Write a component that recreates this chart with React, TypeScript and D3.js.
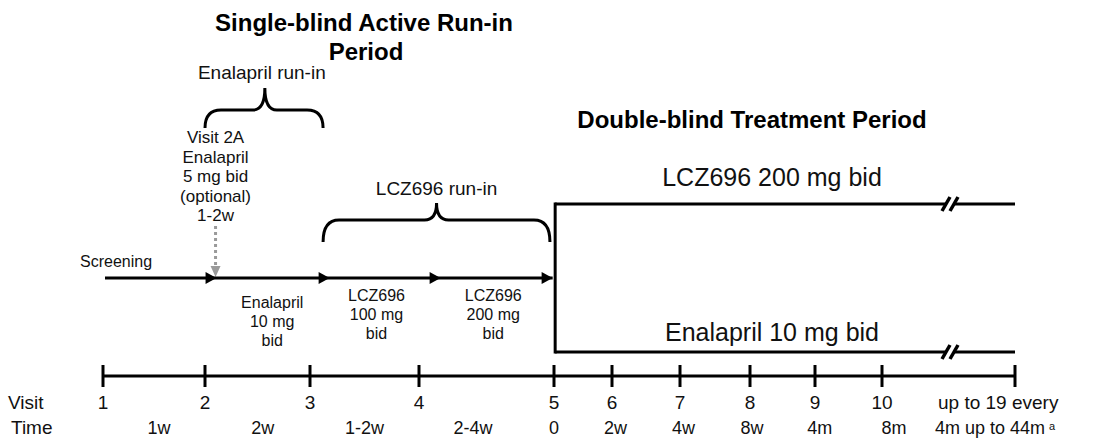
import { useEffect, useRef } from "react";
import * as d3 from "d3";

// visit axis
const visits = ["1", "2", "3", "4", "5", "6", "7", "8", "9", "10"];
const visitEnd = "up to 19 every";
const timeLabels = ["1w", "2w", "1-2w", "2-4w", "0", "2w", "4w", "8w", "4m", "8m"];
const timePos = [0.55, 1.55, 2.5, 3.4, 4, 5.05, 6.05, 7.03, 8.07, 9.09];
const timeEnd = "4m up to 44m";

// run-in phases (position in visit units)
const runInArrows = [1.11, 2.18, 3.16, 3.99];
const runInLabels = [
  { pos: 1.64, lines: ["Enalapril", "10 mg", "bid"], dy: 0 },
  { pos: 2.61, lines: ["LCZ696", "100 mg", "bid"], dy: -7 },
  { pos: 3.55, lines: ["LCZ696", "200 mg", "bid"], dy: -7 },
];
const optionalLines = ["Visit 2A", "Enalapril", "5 mg bid", "(optional)", "1-2w"];

const braces = [
  { from: 1.0, to: 2.12, tip: 1.57, label: "Enalapril run-in", top: 110, tipY: 88, end: 128, labelY: 79 },
  { from: 2.12, to: 3.97, tip: 3.13, label: "LCZ696 run-in", top: 220, tipY: 203, end: 242, labelY: 195 },
];

const arms = ["LCZ696 200 mg bid", "Enalapril 10 mg bid"];

export default function App() {
  const ref = useRef<SVGSVGElement>(null);

  useEffect(() => {
    if (!ref.current) return;
    const svg = d3.select(ref.current);
    svg.selectAll("*").remove();

    const font = "Liberation Sans, Arial, sans-serif";
    const ink = "#111";
    const x = d3.scaleLinear()
      .domain(d3.range(0, 11))
      .range([103, 205, 310, 419, 554, 612, 680, 750, 815, 882, 1015]);

    const axisY = 376;
    const runY = 278;
    const armTop = 204;
    const armBot = 352;

    // Titles
    svg.append("text").attr("x", 364).attr("y", 31)
      .attr("text-anchor", "middle").attr("font-family", font)
      .attr("font-weight", "bold").attr("font-size", 24)
      .text("Single-blind Active Run-in");
    svg.append("text").attr("x", 366).attr("y", 60)
      .attr("text-anchor", "middle").attr("font-family", font)
      .attr("font-weight", "bold").attr("font-size", 24)
      .text("Period");
    svg.append("text").attr("x", 752).attr("y", 128)
      .attr("text-anchor", "middle").attr("font-family", font)
      .attr("font-weight", "bold").attr("font-size", 24)
      .text("Double-blind Treatment Period");

    // Braces
    braces.forEach(b => {
      const x1 = x(b.from), x2 = x(b.to), xm = x(b.tip), r = 12;
      const p = d3.path();
      p.moveTo(x1, b.end);
      p.quadraticCurveTo(x1, b.top, x1 + r + 4, b.top);
      p.lineTo(xm - r, b.top);
      p.quadraticCurveTo(xm, b.top, xm, b.tipY);
      p.quadraticCurveTo(xm, b.top, xm + r, b.top);
      p.lineTo(x2 - r - 4, b.top);
      p.quadraticCurveTo(x2, b.top, x2, b.end);
      svg.append("path").attr("d", p.toString())
        .attr("fill", "none").attr("stroke", "#000").attr("stroke-width", 3);
      svg.append("text").attr("x", xm + (b.label.startsWith("E") ? -3 : 0)).attr("y", b.labelY)
        .attr("text-anchor", "middle").attr("font-family", font).attr("font-size", 19)
        .attr("fill", ink).text(b.label);
    });

    // Optional visit 2A
    const optX = x(1.11) - 1;
    optionalLines.forEach((t, i) => {
      svg.append("text").attr("x", optX).attr("y", 143 + i * 19.5)
        .attr("text-anchor", "middle").attr("font-family", font).attr("font-size", 17)
        .attr("fill", ink).text(t);
    });
    svg.append("line").attr("x1", optX).attr("x2", optX).attr("y1", 226).attr("y2", 266)
      .attr("stroke", "#9a9a9a").attr("stroke-width", 3).attr("stroke-dasharray", "3 3");
    svg.append("path")
      .attr("d", `M${optX - 5},${266}L${optX + 5},${266}L${optX},${277}Z`)
      .attr("fill", "#9a9a9a");

    // Run-in line with arrows
    svg.append("line").attr("x1", 105).attr("x2", x(runInArrows[runInArrows.length - 1]))
      .attr("y1", runY).attr("y2", runY).attr("stroke", "#000").attr("stroke-width", 3);
    svg.selectAll("path.arr").data(runInArrows).join("path").attr("class", "arr")
      .attr("d", d => `M${x(d) - 11},${runY - 6}L${x(d)},${runY}L${x(d) - 11},${runY + 6}Z`)
      .attr("fill", "#000");
    svg.append("text").attr("x", 80).attr("y", 267)
      .attr("font-family", font).attr("font-size", 16).attr("fill", ink).text("Screening");

    runInLabels.forEach(l => {
      l.lines.forEach((t, i) => {
        svg.append("text").attr("x", x(l.pos)).attr("y", 308 + l.dy + i * 19)
          .attr("text-anchor", "middle").attr("font-family", font).attr("font-size", 16)
          .attr("fill", ink).text(t);
      });
    });

    // Treatment arms
    const splitX = x(4.02);
    const endX = x(10);
    const breakX = 950;
    svg.append("line").attr("x1", splitX).attr("x2", splitX).attr("y1", armTop - 1.5).attr("y2", armBot + 1.5)
      .attr("stroke", "#000").attr("stroke-width", 3);
    [armTop, armBot].forEach((yy, i) => {
      svg.append("line").attr("x1", splitX).attr("x2", endX).attr("y1", yy).attr("y2", yy)
        .attr("stroke", "#000").attr("stroke-width", 3);
      svg.append("rect").attr("x", breakX - 4).attr("y", yy - 4).attr("width", 8).attr("height", 8)
        .attr("fill", "#fff");
      [-4, 4].forEach(dx => {
        svg.append("line")
          .attr("x1", breakX + dx - 4).attr("y1", yy + 7)
          .attr("x2", breakX + dx + 4).attr("y2", yy - 7)
          .attr("stroke", "#000").attr("stroke-width", 3.5);
      });
      svg.append("text").attr("x", 772).attr("y", i === 0 ? 186 : 341)
        .attr("text-anchor", "middle").attr("font-family", font).attr("font-size", 25)
        .attr("fill", ink).text(arms[i]);
    });

    // Visit axis
    svg.append("line").attr("x1", x(0)).attr("x2", x(10)).attr("y1", axisY).attr("y2", axisY)
      .attr("stroke", "#000").attr("stroke-width", 3);
    svg.selectAll("line.tick").data(d3.range(0, 11)).join("line").attr("class", "tick")
      .attr("x1", d => x(d)).attr("x2", d => x(d))
      .attr("y1", axisY - 11).attr("y2", axisY + 11)
      .attr("stroke", "#000").attr("stroke-width", 3);

    svg.append("text").attr("x", 8).attr("y", 409).attr("font-family", font).attr("font-size", 19)
      .attr("fill", ink).text("Visit");
    svg.append("text").attr("x", 11).attr("y", 434).attr("font-family", font).attr("font-size", 19)
      .attr("fill", ink).text("Time");

    svg.selectAll("text.visit").data(visits).join("text").attr("class", "visit")
      .attr("x", (_, i) => x(i)).attr("y", 409)
      .attr("text-anchor", "middle").attr("font-family", font).attr("font-size", 19)
      .attr("fill", ink).text(d => d);
    svg.append("text").attr("x", 938).attr("y", 409).attr("font-family", font).attr("font-size", 19)
      .attr("fill", ink).text(visitEnd);

    svg.selectAll("text.time").data(timeLabels).join("text").attr("class", "time")
      .attr("x", (_, i) => x(timePos[i])).attr("y", 434)
      .attr("text-anchor", "middle").attr("font-family", font).attr("font-size", 18)
      .attr("fill", ink).text(d => d);
    const te = svg.append("text").attr("x", 935).attr("y", 434).attr("font-family", font)
      .attr("font-size", 18).attr("fill", ink);
    te.append("tspan").text(timeEnd);
    te.append("tspan").attr("dx", 4).attr("dy", -4).attr("font-size", 11).text("a");
  }, []);

  return (
    <svg ref={ref} width={1105} height={448}
      style={{ position: "absolute", left: 0, top: 0, background: "#fff" }} />
  );
}
